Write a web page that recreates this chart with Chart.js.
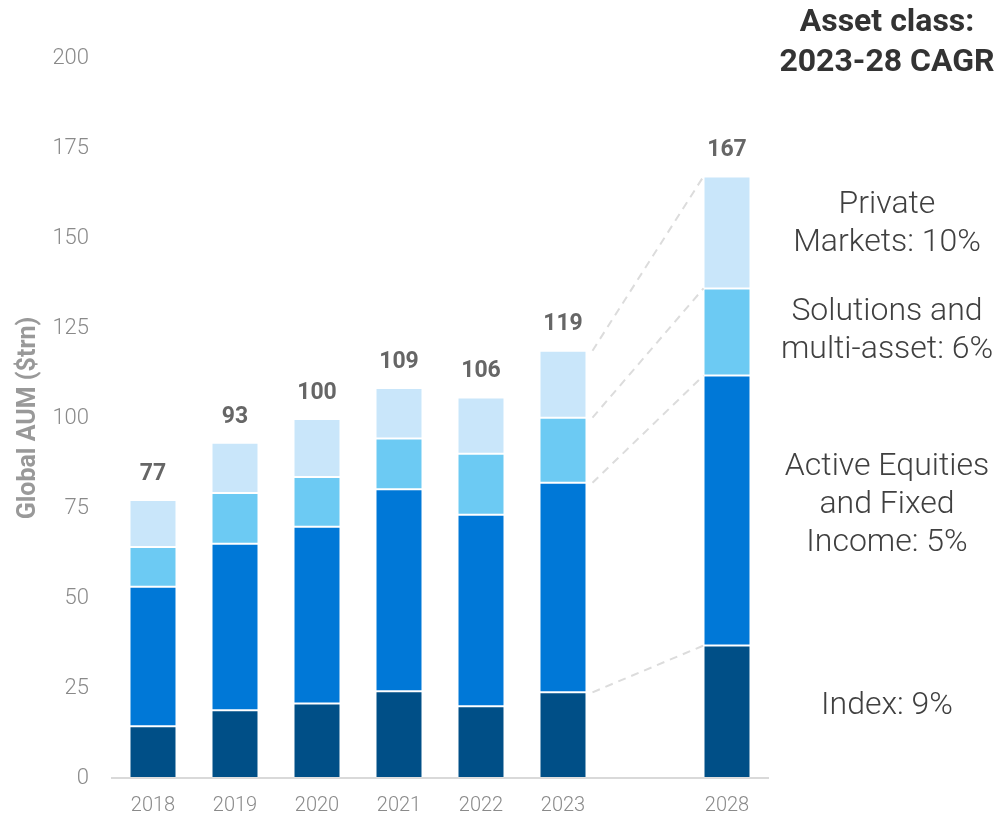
<!DOCTYPE html>
<html>
<head>
<meta charset="utf-8">
<script src="https://cdn.jsdelivr.net/npm/chart.js@4.4.1/dist/chart.umd.min.js"></script>
<style>
  html, body { margin: 0; padding: 0; background: #fff; }
  #wrap { width: 1000px; height: 816px; position: relative; }
</style>
</head>
<body>
<div id="wrap"><canvas id="aumChart"></canvas></div>
<script>
// data ($trn)
const years = ["2018", "2019", "2020", "2021", "2022", "2023", "", "2028"];
const indexAum = [14.4, 18.8, 20.7, 24.1, 19.9, 23.8, null, 36.8];
const activeAum = [38.7, 46.3, 49.1, 56.1, 53.2, 58.2, null, 75.0];
const solutionsAum = [11.1, 14.1, 13.8, 14.1, 17.0, 18.1, null, 24.2];
const privateAum = [13.0, 13.9, 16.1, 14.0, 15.6, 18.6, null, 31.1];
const totalLabels = ["77", "93", "100", "109", "106", "119", "", "167"];

const cagrTitle = ["Asset class:", "2023-28 CAGR"];
const cagrNotes = [
  { lines: ["Private", "Markets: 10%"], y: 205 },
  { lines: ["Solutions and", "multi-asset: 6%"], y: 312 },
  { lines: ["Active Equities", "and Fixed", "Income: 5%"], y: 467 },
  { lines: ["Index: 9%"], y: 706 },
];

const FONT = "Roboto, 'Noto Sans', sans-serif";

// totals above each bar
const totalsPlugin = {
  id: "totals",
  afterDatasetsDraw(chart) {
    const ctx = chart.ctx;
    const yScale = chart.scales.y;
    const topMeta = chart.getDatasetMeta(chart.data.datasets.length - 1);
    ctx.save();
    ctx.font = "bold 23px " + FONT;
    ctx.fillStyle = "#666666";
    ctx.textAlign = "center";
    ctx.textBaseline = "middle";
    topMeta.data.forEach((bar, i) => {
      if (!totalLabels[i]) return;
      let sum = 0;
      chart.data.datasets.forEach((ds) => { sum += ds.data[i] || 0; });
      ctx.fillText(totalLabels[i], bar.x, yScale.getPixelForValue(sum) - 26);
    });
    ctx.restore();
  },
};

// dashed connectors 2023 -> 2028
const connectorPlugin = {
  id: "connectors",
  afterDatasetsDraw(chart) {
    const ctx = chart.ctx;
    ctx.save();
    ctx.strokeStyle = "#dcdcdc";
    ctx.lineWidth = 2;
    ctx.setLineDash([8, 6]);
    chart.data.datasets.forEach((ds, d) => {
      const meta = chart.getDatasetMeta(d);
      const a = meta.data[5];
      const b = meta.data[7];
      ctx.beginPath();
      ctx.moveTo(a.x + a.width / 2 + 6, a.y);
      ctx.lineTo(b.x - b.width / 2, b.y);
      ctx.stroke();
    });
    ctx.restore();
  },
};

// right-hand CAGR notes
const notesPlugin = {
  id: "notes",
  afterDraw(chart) {
    const ctx = chart.ctx;
    const cx = 887;
    ctx.save();
    ctx.textAlign = "center";
    ctx.textBaseline = "middle";
    ctx.fillStyle = "#333333";
    ctx.font = "bold 32px " + FONT;
    ctx.fillText(cagrTitle[0], cx, 23);
    ctx.fillText(cagrTitle[1], cx, 63);
    ctx.fillStyle = "#404040";
    ctx.font = "300 32px " + FONT;
    cagrNotes.forEach((n) => {
      n.lines.forEach((line, k) => {
        ctx.fillText(line, cx, n.y + k * 38);
      });
    });
    ctx.restore();
  },
};

const makeSet = (label, data, color) => ({
  label: label,
  data: data,
  backgroundColor: color,
  borderColor: "rgba(255,255,255,0.15)",
  borderWidth: 1,
  borderSkipped: false,
  categoryPercentage: 1,
  barPercentage: 0.573,
});

new Chart(document.getElementById("aumChart"), {
  type: "bar",
  data: {
    labels: years,
    datasets: [
      makeSet("Index", indexAum, "#004f87"),
      makeSet("Active Equities and Fixed Income", activeAum, "#0078d7"),
      makeSet("Solutions and multi-asset", solutionsAum, "#6ccaf3"),
      makeSet("Private Markets", privateAum, "#c9e6fa"),
    ],
  },
  options: {
    responsive: true,
    maintainAspectRatio: false,
    animation: false,
    layout: { padding: { left: 0, right: 232, top: 58, bottom: 0 } },
    plugins: {
      legend: { display: false },
      tooltip: { enabled: false },
    },
    scales: {
      x: {
        stacked: true,
        grid: { display: false, drawTicks: false },
        border: { color: "#d9d9d9", width: 2 },
        ticks: {
          color: "#8a8a8a",
          font: { family: FONT, size: 20, weight: "300" },
          padding: 16,
          maxRotation: 0,
        },
        afterFit(scale) { scale.height = 38; },
      },
      y: {
        stacked: true,
        min: 0,
        max: 200,
        grid: { display: false, drawTicks: false },
        border: { display: false },
        ticks: {
          stepSize: 25,
          color: "#8a8a8a",
          font: { family: FONT, size: 22, weight: "300" },
          padding: 23,
        },
        title: {
          display: true,
          text: "Global AUM ($trn)",
          color: "#999999",
          font: { family: FONT, size: 25, weight: "bold" },
          padding: { top: 14, bottom: 0 },
        },
        afterFit(scale) { scale.width = 112; },
      },
    },
  },
  plugins: [connectorPlugin, totalsPlugin, notesPlugin],
});
</script>
</body>
</html>
